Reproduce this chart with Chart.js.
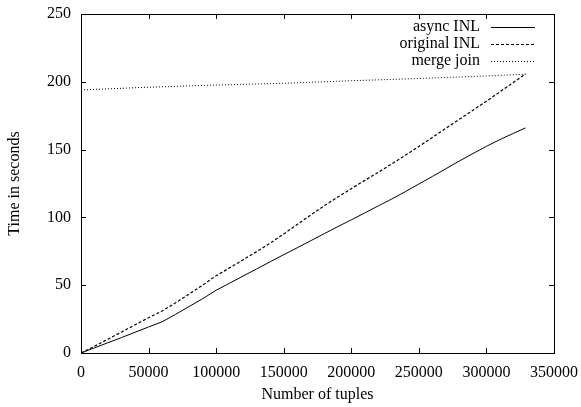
<!DOCTYPE html>
<html>
<head>
<meta charset="utf-8">
<script src="https://cdn.jsdelivr.net/npm/chart.js@4.4.0/dist/chart.umd.min.js"></script>
<style>
  html, body { margin: 0; padding: 0; background: #fff; }
  #wrap { width: 581px; height: 407px; }
</style>
</head>
<body>
<div id="wrap"><canvas id="joinChart" width="581" height="407"></canvas></div>
<script>
// Data (tuples -> seconds)
const asyncTuples = [0, 10000, 20000, 30000, 40000, 50000, 60000, 70000, 80000, 90000, 100000,
  110000, 120000, 130000, 140000, 150000, 160000, 170000, 180000, 190000, 200000,
  210000, 220000, 230000, 240000, 250000, 260000, 270000, 280000, 290000, 300000,
  310000, 320000, 329000];
const asyncSeconds = [0, 3.8, 7.6, 11.4, 15.3, 19.2, 23, 28.5, 34.3, 40, 46.3,
  51.5, 56.8, 62, 67.3, 72.5, 77.6, 82.8, 88, 93.2, 98.2,
  103.3, 108.5, 113.6, 119, 124.6, 130.2, 135.9, 141.6, 147.1, 152.4,
  157.4, 162, 166];

const originalTuples = [0, 10000, 20000, 30000, 40000, 50000, 60000, 70000, 80000, 90000, 100000,
  110000, 120000, 130000, 140000, 150000, 160000, 170000, 180000, 190000, 200000,
  210000, 220000, 230000, 240000, 250000, 260000, 270000, 280000, 290000, 300000, 329000];
const originalSeconds = [0, 5, 10.2, 15.5, 20.8, 26, 31, 37, 43.5, 50, 57,
  62.8, 68.8, 74.8, 81, 87.8, 94.8, 101.8, 108.6, 115, 121.2,
  127.3, 133.3, 139.5, 145.8, 152.3, 159, 165.7, 172.4, 179, 185.7, 205.8];

const mergeTuples = [0, 50000, 100000, 150000, 200000, 250000, 300000, 329000];
const mergeSeconds = [194, 196, 197.6, 198.9, 200.8, 202.4, 204.3, 205.6];

const seriesNames = ['async INL', 'original INL', 'merge join'];

function toPoints(xs, ys) {
    return xs.map((x, i) => ({ x: x, y: ys[i] }));
}

const FONT = { family: '"Liberation Serif", "DejaVu Serif", serif', size: 16 };

// Draws the frame, inward ticks on all four sides and the gnuplot-like legend
const framePlugin = {
    id: 'frame',
    afterDraw(chart) {
        const ctx = chart.ctx;
        const a = chart.chartArea;
        const xs = chart.scales.x;
        const ys = chart.scales.y;
        ctx.save();
        ctx.strokeStyle = '#000';
        ctx.lineWidth = 1;
        ctx.setLineDash([]);
        ctx.beginPath();
        xs.ticks.forEach(t => {
            const px = Math.round(xs.getPixelForValue(t.value)) + 0.5;
            ctx.moveTo(px, a.bottom); ctx.lineTo(px, a.bottom - 5);
            ctx.moveTo(px, a.top); ctx.lineTo(px, a.top + 5);
        });
        ys.ticks.forEach(t => {
            const py = Math.round(ys.getPixelForValue(t.value)) + 0.5;
            ctx.moveTo(a.left, py); ctx.lineTo(a.left + 5, py);
            ctx.moveTo(a.right, py); ctx.lineTo(a.right - 5, py);
        });
        ctx.stroke();
        ctx.strokeRect(Math.round(a.left) + 0.5, Math.round(a.top) + 0.5,
            Math.round(a.right - a.left), Math.round(a.bottom - a.top));

        // legend
        ctx.font = FONT.size + 'px ' + FONT.family;
        ctx.fillStyle = '#000';
        ctx.textAlign = 'right';
        ctx.textBaseline = 'middle';
        chart.data.datasets.forEach((ds, i) => {
            const y = a.top + 13 + i * 17;
            ctx.fillText(ds.label, a.right - 74, y);
            ctx.setLineDash(ds.borderDash || []);
            ctx.lineWidth = 1;
            ctx.beginPath();
            ctx.moveTo(a.right - 63, Math.round(y) + 0.5);
            ctx.lineTo(a.right - 19, Math.round(y) + 0.5);
            ctx.stroke();
        });
        ctx.restore();
    }
};

document.addEventListener('DOMContentLoaded', function() {
    const ctx = document.getElementById('joinChart').getContext('2d');
    new Chart(ctx, {
        type: 'line',
        data: {
            datasets: [
                {
                    label: seriesNames[0],
                    data: toPoints(asyncTuples, asyncSeconds),
                    borderColor: '#000',
                    borderWidth: 1,
                    pointRadius: 0,
                    fill: false,
                    tension: 0
                },
                {
                    label: seriesNames[1],
                    data: toPoints(originalTuples, originalSeconds),
                    borderColor: '#000',
                    borderWidth: 1.2,
                    borderDash: [3, 2],
                    pointRadius: 0,
                    fill: false,
                    tension: 0
                },
                {
                    label: seriesNames[2],
                    data: toPoints(mergeTuples, mergeSeconds),
                    borderColor: '#000',
                    borderWidth: 1,
                    borderDash: [1, 2],
                    pointRadius: 0,
                    fill: false,
                    tension: 0
                }
            ]
        },
        options: {
            responsive: false,
            animation: false,
            layout: { padding: { top: 14, right: 27, left: 0, bottom: 0 } },
            plugins: {
                legend: { display: false },
                tooltip: { enabled: false }
            },
            scales: {
                x: {
                    type: 'linear',
                    min: 0,
                    max: 350000,
                    grid: { display: false, drawTicks: false },
                    border: { display: false },
                    ticks: {
                        stepSize: 50000,
                        color: '#000',
                        font: FONT,
                        padding: 10,
                        maxRotation: 0,
                        callback: v => String(v)
                    },
                    title: {
                        display: true,
                        text: 'Number of tuples',
                        color: '#000',
                        font: FONT,
                        padding: { top: 0, bottom: 3 }
                    },
                    afterFit(scale) {
                        scale.height = 54;
                        scale.paddingLeft = 0;
                        scale.paddingRight = 0;
                    }
                },
                y: {
                    min: 0,
                    max: 250,
                    grid: { display: false, drawTicks: false },
                    border: { display: false },
                    ticks: {
                        stepSize: 50,
                        color: '#000',
                        font: FONT,
                        padding: 10
                    },
                    title: {
                        display: true,
                        text: 'Time in seconds',
                        color: '#000',
                        font: FONT,
                        padding: { top: 5, bottom: 0 }
                    },
                    afterFit(scale) {
                        scale.width = 81;
                        scale.paddingTop = 0;
                        scale.paddingBottom = 0;
                    }
                }
            }
        },
        plugins: [framePlugin]
    });
});
</script>
</body>
</html>
